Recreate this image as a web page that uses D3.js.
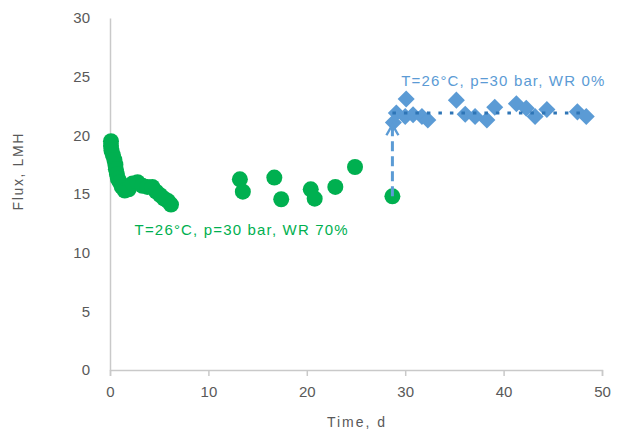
<!DOCTYPE html>
<html>
<head>
<meta charset="utf-8">
<script src="https://cdn.jsdelivr.net/npm/d3@7"></script>
<style>
  body { margin: 0; background: #fff; }
  text { font-family: 'Liberation Sans', Arial, sans-serif; }
</style>
</head>
<body>
<div id="chart"></div>
<script>
// WR 70% run (green circles)
const greenTime = [0.1, 0.1, 0.15, 0.3, 0.45, 0.55, 0.6, 0.7, 0.8, 1.0, 1.2, 1.5, 1.9, 2.3, 2.8, 3.3, 3.8, 4.3, 4.7, 5.1, 5.5, 5.9, 6.2,
  13.2, 13.5, 16.7, 17.4, 20.4, 20.8, 22.9, 24.9, 28.7]
const greenFlux = [19.5, 19.1, 18.7, 18.3, 17.9, 17.5, 17.1, 16.7, 16.3, 16.0, 15.6, 15.3, 15.4, 15.9, 16.0, 15.7, 15.6, 15.6, 15.2, 14.9, 14.6, 14.4, 14.1,
  16.25, 15.2, 16.4, 14.55, 15.4, 14.6, 15.6, 17.3, 14.8]

// WR 0% run (blue diamonds)
const blueTime = [28.8, 29.1, 30.0, 30.1, 30.8, 31.7, 32.3, 35.2, 36.1, 37.1, 38.3, 39.1, 41.3, 42.3, 43.2, 44.4, 47.5, 48.4]
const blueFlux = [21.1, 21.9, 21.6, 23.1, 21.75, 21.6, 21.3, 23.0, 21.8, 21.6, 21.3, 22.4, 22.7, 22.3, 21.6, 22.2, 22.0, 21.6]

// mean line of the WR 0% run and the arrow between runs
const meanFlux = 21.9
const meanRange = [28.7, 48.4]
const arrowTime = 28.7
const arrowFlux = [14.8, 20.9]

const xTicks = [0, 10, 20, 30, 40, 50]
const yTicks = [0, 5, 10, 15, 20, 25, 30]

const margin = { top: 18, right: 30, bottom: 62, left: 110 }
const width = 632 - margin.left - margin.right
const height = 432 - margin.top - margin.bottom

const svg = d3.select('#chart')
  .append('svg')
  .attr('width', 632)
  .attr('height', 432)

const g = svg.append('g')
  .attr('transform', 'translate(' + margin.left + ',' + margin.top + ')')

const x = d3.scaleLinear().domain([0, 50]).range([0, width])
const y = d3.scaleLinear().domain([0, 30]).range([height, 0])

// axes
const xAxis = g.append('g')
  .attr('transform', 'translate(0,' + height + ')')
  .call(d3.axisBottom(x).tickValues(xTicks).tickSize(6).tickPadding(10))
xAxis.select('.domain').attr('stroke', '#c9c9c9').attr('stroke-width', 1.5)
xAxis.selectAll('.tick line').attr('stroke', '#c9c9c9').attr('stroke-width', 1.5)
xAxis.selectAll('.tick text').attr('fill', '#595959').style('font-size', '15px')

const yAxis = g.append('g')
  .call(d3.axisLeft(y).tickValues(yTicks).tickSize(0).tickPadding(20))
yAxis.select('.domain').attr('stroke', '#c9c9c9').attr('stroke-width', 1.5)
yAxis.selectAll('.tick text').attr('fill', '#595959').style('font-size', '15px')

// axis titles
svg.append('text')
  .attr('x', margin.left + width / 2)
  .attr('y', 427)
  .attr('text-anchor', 'middle')
  .attr('fill', '#595959')
  .style('font-size', '14px')
  .attr('textLength', 58)
  .attr('lengthAdjust', 'spacing')
  .text('Time, d')

svg.append('text')
  .attr('transform', 'translate(23,172) rotate(-90)')
  .attr('text-anchor', 'middle')
  .attr('fill', '#595959')
  .style('font-size', '14px')
  .attr('textLength', 77)
  .attr('lengthAdjust', 'spacing')
  .text('Flux, LMH')

// green circles
const greenData = greenTime.map((t, i) => ({ t: t, f: greenFlux[i] }))
g.selectAll('.green')
  .data(greenData)
  .enter()
  .append('circle')
  .attr('class', 'green')
  .attr('cx', d => x(d.t))
  .attr('cy', d => y(d.f))
  .attr('r', 8)
  .attr('fill', '#00b050')

// blue diamonds
const blueData = blueTime.map((t, i) => ({ t: t, f: blueFlux[i] }))
g.selectAll('.blue')
  .data(blueData)
  .enter()
  .append('path')
  .attr('class', 'blue')
  .attr('d', d3.symbol().type(d3.symbolDiamond2).size(185))
  .attr('transform', d => 'translate(' + x(d.t) + ',' + y(d.f) + ')')
  .attr('fill', '#5b9bd5')

// dotted mean line
g.append('line')
  .attr('x1', x(meanRange[0]))
  .attr('x2', x(meanRange[1]))
  .attr('y1', y(meanFlux))
  .attr('y2', y(meanFlux))
  .attr('stroke', '#2e75b6')
  .attr('stroke-width', 3)
  .attr('stroke-dasharray', '3.5,8')

// dashed arrow between runs
svg.append('defs').append('marker')
  .attr('id', 'head')
  .attr('viewBox', '0 0 10 10')
  .attr('refX', 8)
  .attr('refY', 5)
  .attr('markerWidth', 5)
  .attr('markerHeight', 5)
  .attr('orient', 'auto')
  .append('path')
  .attr('d', 'M1,1 L8,5 L1,9')
  .attr('fill', 'none')
  .attr('stroke', '#5b9bd5')
  .attr('stroke-width', 1.6)

g.append('line')
  .attr('x1', x(arrowTime))
  .attr('x2', x(arrowTime))
  .attr('y1', y(arrowFlux[0]))
  .attr('y2', y(arrowFlux[1]))
  .attr('stroke', '#5b9bd5')
  .attr('stroke-width', 3)
  .attr('stroke-dasharray', '10,5')
  .attr('marker-end', 'url(#head)')

// annotations
g.append('text')
  .attr('x', x(2.5))
  .attr('y', y(11.5))
  .attr('fill', '#00b050')
  .style('font-size', '15px')
  .attr('textLength', 213)
  .attr('lengthAdjust', 'spacing')
  .text('T=26°C, p=30 bar, WR 70%')

g.append('text')
  .attr('x', x(29.6))
  .attr('y', y(24.2))
  .attr('fill', '#5b9bd5')
  .style('font-size', '15px')
  .attr('textLength', 203)
  .attr('lengthAdjust', 'spacing')
  .text('T=26°C, p=30 bar, WR 0%')
</script>
</body>
</html>
